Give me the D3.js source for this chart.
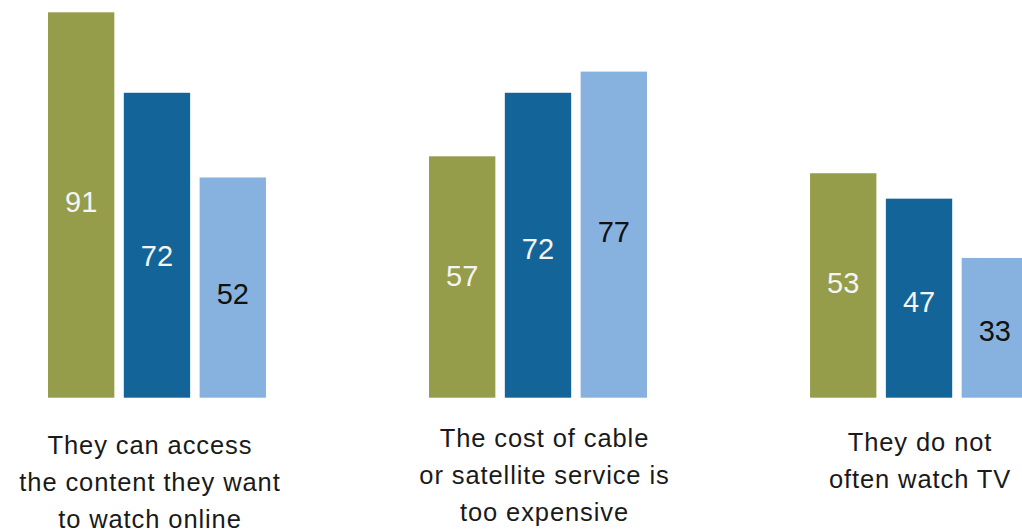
<!DOCTYPE html>
<html>
<head>
<meta charset="utf-8">
<script src="https://cdn.jsdelivr.net/npm/d3@7"></script>
<style>
  html, body { margin: 0; padding: 0; background: #fff; }
  svg { display: block; }
</style>
</head>
<body>
<svg id="chart" width="1022" height="532"></svg>
<script>
// Reasons, each with three grouped bars
const categories = [
  ["They can access", "the content they want", "to watch online"],
  ["The cost of cable", "or satellite service is", "too expensive"],
  ["They do not", "often watch TV"]
];
const seriesKeys = ["first", "second", "third"];
const firstValues  = [91, 57, 53];
const secondValues = [72, 72, 47];
const thirdValues  = [52, 77, 33];
const seriesValues = [firstValues, secondValues, thirdValues];

const colors    = { first: "#959d4b", second: "#136599", third: "#87b1de" };
const textColor = { first: "#f4f4f4", second: "#f4f4f4", third: "#111111" };

// Hand-placed label offsets (pixels), group by series
const valueLabelShift = [[-4, 10.5, 5.5], [-2, 3.5, -3.5], [-2.5, 3, 3]];
const categoryLabelShift = [[-7, 3.5], [6.5, -3], [1, 0.5]];

const baseline = 397.7;
const svg = d3.select("#chart");

const groupIds = categories.map((c, i) => i);

const x0 = d3.scaleBand()
  .domain(groupIds)
  .range([48, 1028])
  .paddingInner(0.428)
  .paddingOuter(0);

const x1 = d3.scaleBand()
  .domain(seriesKeys)
  .range([0, x0.bandwidth()])
  .paddingInner(0.125)
  .paddingOuter(0);

const y = d3.scaleLinear()
  .domain([0, 100])
  .range([baseline, baseline - 423.5]);

const rows = groupIds.map(i => ({
  group: i,
  bars: seriesKeys.map((k, s) => ({ key: k, s, group: i, value: seriesValues[s][i] }))
}));

const groups = svg.append("g")
  .selectAll("g")
  .data(rows)
  .join("g")
  .attr("transform", d => `translate(${x0(d.group)},0)`);

groups.selectAll("rect")
  .data(d => d.bars)
  .join("rect")
  .attr("x", d => x1(d.key))
  .attr("y", d => y(d.value))
  .attr("width", x1.bandwidth())
  .attr("height", d => y(0) - y(d.value))
  .attr("fill", d => colors[d.key]);

groups.selectAll("text.val")
  .data(d => d.bars)
  .join("text")
  .attr("class", "val")
  .attr("x", d => x1(d.key) + x1.bandwidth() / 2)
  .attr("y", d => (y(d.value) + y(0)) / 2 + 10.5 + valueLabelShift[d.group][d.s])
  .attr("text-anchor", "middle")
  .attr("font-family", "'Liberation Sans', Arial, sans-serif")
  .attr("font-size", 29)
  .attr("fill", d => textColor[d.key])
  .text(d => d.value);

// Category labels under each group
const labels = svg.append("g")
  .selectAll("text")
  .data(rows)
  .join("text")
  .attr("x", d => x0(d.group) + x0.bandwidth() / 2 + categoryLabelShift[d.group][0])
  .attr("y", d => 450 + categoryLabelShift[d.group][1])
  .attr("text-anchor", "middle")
  .attr("font-family", "'Liberation Sans', Arial, sans-serif")
  .attr("font-size", 25.5)
  .attr("letter-spacing", 0.9)
  .attr("fill", "#1a1a1a");

labels.selectAll("tspan")
  .data(d => categories[d.group])
  .join("tspan")
  .attr("x", function () { return d3.select(this.parentNode).attr("x"); })
  .attr("dy", (d, i) => i === 0 ? 0 : 37)
  .text(d => d);
</script>
</body>
</html>
